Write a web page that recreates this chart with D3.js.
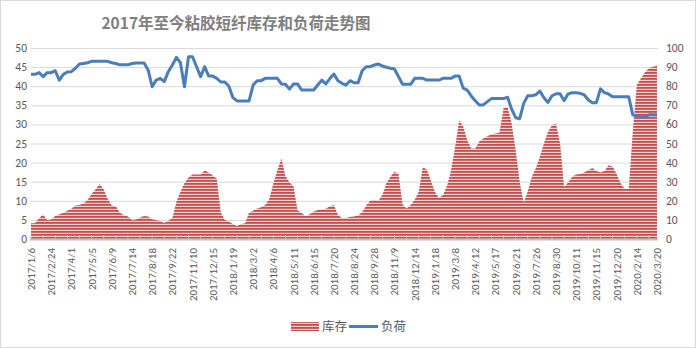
<!DOCTYPE html>
<html><head><meta charset="utf-8">
<script src="https://cdn.jsdelivr.net/npm/d3@7"></script>
<style>body{margin:0;background:#fff}svg{display:block}</style>
</head><body>
<svg id="c" width="696" height="348"></svg>
<script>
const title = "2017年至今粘胶短纤库存和负荷走势图";
const seriesNames = ["库存", "负荷"];
const tickLabels = ["2017/1/6","2017/2/24","2017/4/1","2017/5/5","2017/6/9","2017/7/14","2017/8/18","2017/9/22","2017/11/10","2017/12/15","2018/1/19","2018/3/2","2018/4/6","2018/5/11","2018/6/15","2018/7/20","2018/8/24","2018/9/28","2018/11/9","2018/12/14","2019/1/18","2019/3/8","2019/4/12","2019/5/17","2019/6/21","2019/7/26","2019/8/30","2019/10/11","2019/11/15","2019/12/20","2020/2/14","2020/3/20"];
const leftTicks = [0,5,10,15,20,25,30,35,40,45,50];
const rightTicks = [0,10,20,30,40,50,60,70,80,90,100];
const inventory = [4.1,4.2,5.4,6.4,5.0,5.1,6.0,6.5,6.9,7.4,7.9,8.8,8.9,9.3,10.2,11.8,13.0,14.4,13.0,10.5,
8.8,8.6,6.9,6.3,5.9,5.0,5.1,5.6,6.0,5.9,5.2,5.0,4.7,4.2,4.8,5.5,9.7,12.4,14.6,16.1,
16.9,16.9,16.9,17.9,17.4,16.6,15.8,7.0,5.0,4.6,3.9,3.4,3.9,4.1,6.9,7.4,8.0,8.3,8.9,10.5,
14.5,18.0,21.1,16.5,14.8,13.8,7.5,6.8,6.0,6.5,7.2,7.6,7.8,7.9,8.6,8.9,6.3,5.5,5.5,5.8,
5.9,6.2,7.0,8.8,10.1,10.3,10.0,11.5,14.6,16.3,17.7,17.0,9.0,8.0,8.9,10.3,12.4,18.8,18.2,15.3,
12.4,10.8,11.5,13.9,17.9,24.0,31.0,29.5,25.9,23.7,23.7,25.5,26.3,26.9,27.4,27.6,27.9,34.2,34.6,30.3,
23.3,15.0,9.5,12.5,16.3,18.5,21.5,25.0,28.1,29.8,30.2,25.0,13.6,14.8,16.3,16.9,17.0,17.5,18.0,18.6,
17.8,17.5,17.8,19.3,19.0,17.0,14.6,13.1,13.1,28.0,40.3,42.0,43.6,44.7,45.1,45.3];
const load = [86.2,86.2,87.1,85.0,87.1,87.1,88.1,83.2,86.2,87.4,87.6,89.4,91.6,91.9,92.3,93.0,93.0,93.0,93.0,93.0,
92.3,91.9,91.2,91.2,91.2,91.9,92.1,92.1,92.1,88.5,79.7,83.2,84.1,82.4,87.6,91.1,95.1,92.3,79.7,95.4,
95.4,90.2,85.0,90.2,85.3,85.3,84.1,82.2,82.2,80.0,74.0,72.3,72.3,72.3,72.3,80.6,82.9,82.9,84.1,84.1,
84.1,84.1,81.2,81.0,78.5,81.2,81.2,78.0,78.0,78.0,78.0,80.6,83.2,81.2,84.0,86.4,82.9,81.5,80.6,82.9,
81.8,81.8,88.1,90.2,90.2,91.1,91.6,90.6,89.9,89.4,89.0,85.0,81.0,81.0,81.0,84.1,84.1,84.1,83.2,83.2,
83.2,83.2,84.1,84.1,84.1,85.3,85.3,79.0,78.0,74.9,72.4,70.2,70.2,71.9,73.5,73.5,73.5,73.5,74.2,68.0,
63.5,63.0,71.0,75.0,75.0,75.5,77.5,74.0,71.5,75.0,76.0,76.0,72.4,76.0,76.6,76.6,76.3,75.4,72.8,71.4,
71.4,78.6,76.6,75.9,74.5,74.5,74.5,74.5,74.5,65.0,64.4,63.8,64.0,65.0,65.1,65.1];

(function(){
const svg = d3.select("#c");
const W = 696, H = 348;
const pL = 31, pR = 657, pT = 48, pB = 239;
const labelEvery = 5;

svg.append("rect").attr("x",0.5).attr("y",0.5).attr("width",W-1).attr("height",H-1)
  .attr("fill","#fff").attr("stroke","#d9d9d9");

const defs = svg.append("defs");
const pat = defs.append("pattern").attr("id","stripes").attr("patternUnits","userSpaceOnUse")
  .attr("width",6).attr("height",3);
pat.append("rect").attr("width",6).attr("height",3).attr("fill","#f3d0cf");
pat.append("rect").attr("width",6).attr("height",1.8).attr("fill","#c0504d");

const x = d3.scaleLinear().domain([0, inventory.length-1]).range([pL, pR]);
const yL = d3.scaleLinear().domain([0,50]).range([pB, pT]);
const yR = d3.scaleLinear().domain([0,100]).range([pB, pT]);

svg.append("g").selectAll("line").data(leftTicks.filter(d=>d>0)).join("line")
  .attr("x1",pL).attr("x2",pR+1).attr("y1",d=>yL(d)+0.5).attr("y2",d=>yL(d)+0.5)
  .attr("stroke","#d9d9d9").attr("stroke-width",1);

svg.append("path").datum(inventory)
  .attr("d", d3.area().x((d,i)=>x(i)).y0(yL(0)).y1(d=>yL(d)))
  .attr("fill","url(#stripes)");

svg.append("line").attr("x1",pL-1).attr("x2",pR+1).attr("y1",pB+0.5).attr("y2",pB+0.5)
  .attr("stroke","#bfbfbf").attr("stroke-width",2);
const tickIdx = d3.range(0, inventory.length, 3);
svg.append("g").selectAll("line").data(tickIdx).join("line")
  .attr("x1",d=>x(d)).attr("x2",d=>x(d)).attr("y1",pB-4).attr("y2",pB+1)
  .attr("stroke","#bfbfbf").attr("stroke-width",1);

svg.append("path").datum(load)
  .attr("d", d3.line().x((d,i)=>x(i)).y(d=>yR(d)))
  .attr("fill","none").attr("stroke","#4a7ebb").attr("stroke-width",3).attr("stroke-linejoin","round");

const numFont = "Carlito, 'Liberation Sans', 'DejaVu Sans', sans-serif";
svg.append("g").selectAll("text").data(leftTicks).join("text")
  .attr("x",27).attr("y",d=>yL(d)+4).attr("text-anchor","end")
  .attr("font-family",numFont).attr("font-size",11.5).attr("fill","#595959").text(d=>d);
svg.append("g").selectAll("text").data(rightTicks).join("text")
  .attr("x",666).attr("y",d=>yR(d)+4).attr("text-anchor","start")
  .attr("font-family",numFont).attr("font-size",11.5).attr("fill","#595959").text(d=>d);

svg.append("g").selectAll("text").data(tickLabels).join("text")
  .attr("transform",(d,i)=>`translate(${x(i*labelEvery)+4},${pB+9}) rotate(-90)`)
  .attr("text-anchor","end")
  .attr("font-family",numFont).attr("font-size",11).attr("fill","#595959").text(d=>d);

svg.append("text").attr("x",236).attr("y",29).attr("text-anchor","middle")
  .attr("font-family","'Noto Sans CJK SC', sans-serif").attr("font-weight","bold")
  .attr("font-size",15.5).attr("fill","#7f7f7f").text(title);

const lg = svg.append("g");
lg.append("rect").attr("x",291).attr("y",322).attr("width",28).attr("height",9).attr("fill","url(#stripes)");
lg.append("text").attr("x",322).attr("y",331).attr("font-family","'Noto Sans CJK SC', sans-serif")
  .attr("font-size",12.5).attr("fill","#595959").text(seriesNames[0]);
lg.append("line").attr("x1",349).attr("x2",378).attr("y1",326.5).attr("y2",326.5)
  .attr("stroke","#4a7ebb").attr("stroke-width",3);
lg.append("text").attr("x",381).attr("y",331).attr("font-family","'Noto Sans CJK SC', sans-serif")
  .attr("font-size",12.5).attr("fill","#595959").text(seriesNames[1]);
})();
</script>
</body></html>
